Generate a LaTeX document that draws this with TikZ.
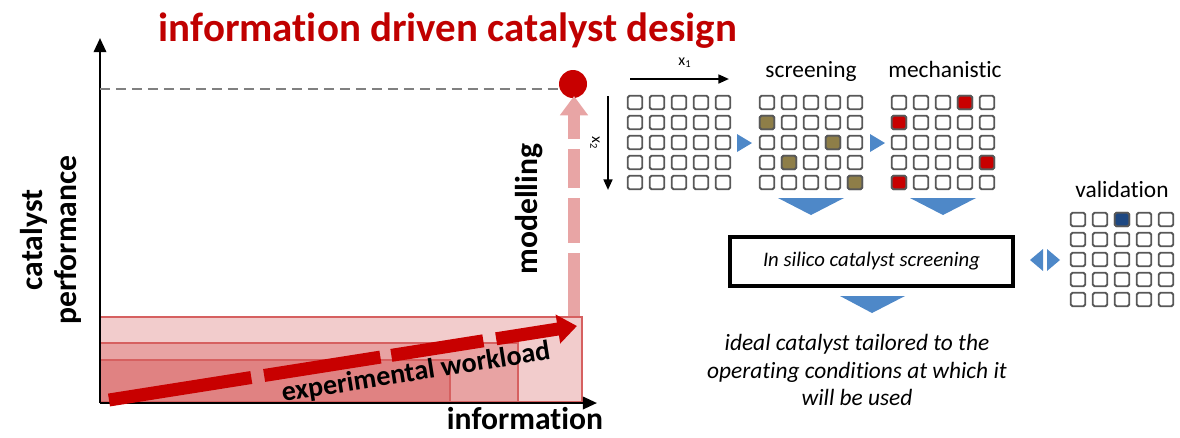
\documentclass[tikz,border=0pt]{standalone}
\usepackage{fontspec}
\setmainfont{Carlito}[Ligatures=NoCommon]
\usetikzlibrary{positioning,arrows.meta,calc}

\definecolor{titlered}{RGB}{192,0,0}
\definecolor{dotred}{RGB}{200,0,0}
\definecolor{bandline}{RGB}{214,96,96}
\definecolor{modelpink}{RGB}{232,165,165}
\definecolor{cellgray}{RGB}{88,88,88}
\definecolor{scrnolive}{RGB}{142,126,72}
\definecolor{valblue}{RGB}{30,72,130}
\definecolor{flowblue}{RGB}{78,136,200}

\newcommand{\cellgrid}[3]{% name, centre of the top left cell
  \foreach \r in {1,...,5}
    \foreach \c in {1,...,5}
      \node[cell] (#1-\r-\c) at ({#2+22*(\c-1)},{#3+20*(\r-1)}) {};}

\begin{document}
\begin{tikzpicture}[x=0.02cm,y=-0.02cm,
    axis/.style={line width=1.4pt,-{Triangle[length=8pt,width=7pt]}},
    big label/.style={font=\fontsize{18}{19}\selectfont\bfseries},
    band/.style={draw=bandline,line width=0.8pt,fill=titlered,fill opacity=0.2},
    cell/.style={draw=cellgray,line width=1.1pt,rounded corners=1pt,fill=white,
                 minimum width=0.29cm,minimum height=0.27cm,inner sep=0pt},
    step name/.style={font=\fontsize{13.3}{14}\selectfont,anchor=base},
    flow/.style={fill=flowblue}
  ]
  \useasboundingbox (0,0) rectangle (1180,437);

  \node[font=\fontsize{23.3}{25}\selectfont\bfseries,text=titlered,anchor=base] (title) at (448,41)
    {information driven catalyst design};

  % experimental work, nested bands
  \draw[band] (100,402) rectangle (582,317);
  \draw[band] (100,402) rectangle (518,343);
  \draw[band] (100,402) rectangle (450,360);

  \coordinate (origin) at (100,403);
  \draw[axis] (origin) -- (100,38);
  \draw[axis] (origin) -- (597,403);
  \node[big label,align=center,rotate=90] (perf) at (51,240) {catalyst\\performance};
  \node[big label,anchor=base] (info) at (525,429) {information};

  \node[circle,fill=dotred,inner sep=0pt,minimum size=0.56cm] (best) at (573,84) {};
  \coordinate (level) at (100,89);
  \draw[draw=gray,line width=1.1pt,dash pattern=on 5.7pt off 3.4pt] (level) -- (level -| best.west);

  \coordinate (m0) at (574,316);
  \coordinate (m1) at (574,96);
  \draw[modelpink,line width=6.8pt,
        dash pattern=on 35.8pt off 5.7pt on 25.6pt off 5.7pt on 22.2pt off 5.7pt on 60pt,
        -{Triangle[length=11pt,width=15.4pt]}] (m0) -- (m1);
  \node[big label,rotate=90] (model) at (529,209) {modelling};

  \coordinate (w0) at (109,400);
  \coordinate (w1) at (577,326);
  \draw[dotred,line width=7.4pt,
        dash pattern=on 82pt off 7.4pt on 67pt off 6.3pt on 53pt off 7.4pt on 80pt,
        -{Triangle[length=11pt,width=16pt]}] (w0) -- (w1);
  \node[font=\fontsize{16}{17}\selectfont\bfseries,rotate=9] (work) at (416,373) {experimental workload};

  % parameter space
  \cellgrid{space}{635}{102.5}
  \cellgrid{scrn}{767}{102.5}
  \cellgrid{mech}{899}{102.5}
  \cellgrid{val}{1078}{219.5}
  \foreach \r/\c in {2/1,3/4,4/2,5/5}
    \node[cell,fill=scrnolive] at (scrn-\r-\c) {};
  \foreach \r/\c in {1/4,2/1,4/5,5/1}
    \node[cell,fill=dotred] at (mech-\r-\c) {};
  \node[cell,fill=valblue] at (val-1-3) {};

  \coordinate (x1a) at (630,79);
  \coordinate (x1b) at (729,79);
  \draw[line width=1.2pt,-{Triangle[length=6pt,width=5pt]}] (x1a) -- (x1b);
  \node[font=\fontsize{9}{10}\selectfont] (x1) at (685,63) {x\textsubscript{1}};
  \coordinate (x2a) at (608,96);
  \coordinate (x2b) at (608,190);
  \draw[line width=1.2pt,-{Triangle[length=6pt,width=5pt]}] (x2a) -- (x2b);
  \node[font=\fontsize{9}{10}\selectfont,rotate=-90] (x2) at (595,143) {x\textsubscript{2}};

  \node[step name] (scrname) at (811,77) {screening};
  \node[step name] (mechname) at (945,77) {mechanistic};
  \node[step name] (valname) at (1122,197) {validation};

  \fill[flow] (737,134) -- (752,143) -- (737,152) -- cycle;
  \fill[flow] (870,134) -- (885,143) -- (870,152) -- cycle;
  \fill[flow] (778,198) -- (844,198) -- (811,215) -- cycle;
  \fill[flow] (910,198) -- (976,198) -- (943,215) -- cycle;

  \node[draw,line width=2.3pt,minimum width=5.66cm,minimum height=0.98cm,
        font=\fontsize{11.8}{13}\selectfont\itshape] (silico) at (871.5,261.5)
    {In silico catalyst screening};
  \fill[flow] (1030,260) -- (1043,249) -- (1043,271) -- cycle;
  \fill[flow] (1060,260) -- (1047,249) -- (1047,271) -- cycle;
  \fill[flow] (840,296) -- (905,296) -- (872,313) -- cycle;

  \node[font=\fontsize{13.3}{15.5}\selectfont\itshape,align=center] (ideal) at (857,370)
    {ideal catalyst tailored to the\\operating conditions at which it\\will be used};
\end{tikzpicture}
\end{document}
